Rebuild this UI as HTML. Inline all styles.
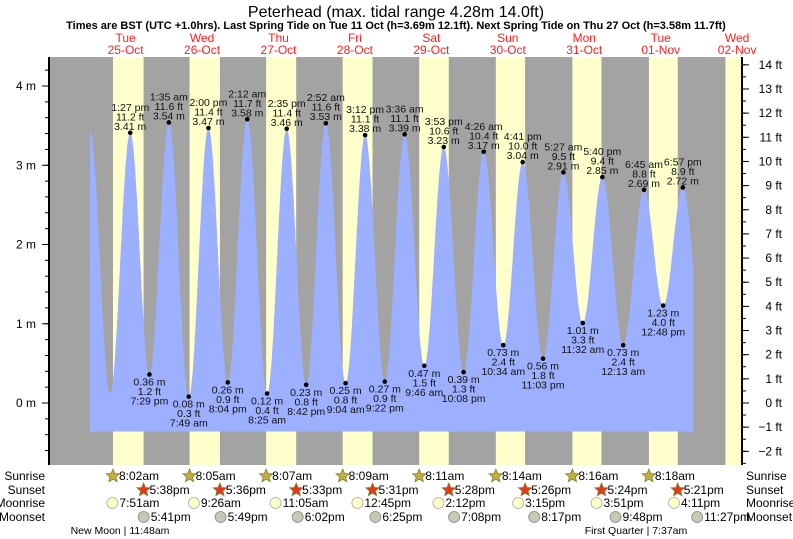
<!DOCTYPE html>
<html><head><meta charset="utf-8"><style>
html,body{margin:0;padding:0;background:#fff;}
svg{display:block;font-family:"Liberation Sans",sans-serif;}
</style></head><body>
<svg id="chart" width="793" height="539" viewBox="0 0 793 539" xmlns="http://www.w3.org/2000/svg">
<text x="396" y="17" font-size="16" text-anchor="middle" fill="#000">Peterhead (max. tidal range 4.28m 14.0ft)</text>
<text x="396" y="29" font-size="11" font-weight="bold" text-anchor="middle" fill="#000">Times are BST (UTC +1.0hrs). Last Spring Tide on Tue 11 Oct (h=3.69m 12.1ft). Next Spring Tide on Thu 27 Oct (h=3.58m 11.7ft)</text>
<g id="bands"></g>
<g id="water"></g>
<g id="labels"></g>
<g id="axes"></g>
<g id="days"></g>
<g id="astro"></g>
</svg>
<script>
// data
const dayNames = ["Tue","Wed","Thu","Fri","Sat","Sun","Mon","Tue","Wed"];
const dayDates = ["25-Oct","26-Oct","27-Oct","28-Oct","29-Oct","30-Oct","31-Oct","01-Nov","02-Nov"];
const tideHours = [0.83,7.1,13.45,19.48,25.58,31.82,38.0,44.07,50.2,56.42,62.58,68.7,74.87,81.07,87.2,93.37,99.6,105.77,111.88,118.13,124.43,130.57,136.68,143.05,149.45,155.53,161.67,168.22,174.75,180.8,186.95,193.25];
const tideHeights = [3.42,0.12,3.41,0.36,3.54,0.08,3.47,0.26,3.58,0.12,3.46,0.23,3.53,0.25,3.38,0.27,3.39,0.47,3.23,0.39,3.17,0.73,3.04,0.56,2.91,1.01,2.85,0.73,2.69,1.23,2.72,0.8];
const tideTimeLabels = ["","","1:27 pm","7:29 pm","1:35 am","7:49 am","2:00 pm","8:04 pm","2:12 am","8:25 am","2:35 pm","8:42 pm","2:52 am","9:04 am","3:12 pm","9:22 pm","3:36 am","9:46 am","3:53 pm","10:08 pm","4:26 am","10:34 am","4:41 pm","11:03 pm","5:27 am","11:32 am","5:40 pm","12:13 am","6:45 am","12:48 pm","6:57 pm",""];
const tideFtLabels = ["","","11.2 ft","1.2 ft","11.6 ft","0.3 ft","11.4 ft","0.9 ft","11.7 ft","0.4 ft","11.4 ft","0.8 ft","11.6 ft","0.8 ft","11.1 ft","0.9 ft","11.1 ft","1.5 ft","10.6 ft","1.3 ft","10.4 ft","2.4 ft","10.0 ft","1.8 ft","9.5 ft","3.3 ft","9.4 ft","2.4 ft","8.8 ft","4.0 ft","8.9 ft",""];
const sunriseHours = [8.03,8.08,8.12,8.15,8.18,8.23,8.27,8.3,8.33];
const sunsetHours = [17.63,17.6,17.55,17.52,17.47,17.43,17.4,17.35];
const sunriseLabels = ["8:02am","8:05am","8:07am","8:09am","8:11am","8:14am","8:16am","8:18am"];
const sunsetLabels = ["5:38pm","5:36pm","5:33pm","5:31pm","5:28pm","5:26pm","5:24pm","5:21pm"];
const moonriseHours = [7.85,9.43,11.08,12.75,14.2,15.25,15.85,16.18];
const moonriseLabels = ["7:51am","9:26am","11:05am","12:45pm","2:12pm","3:15pm","3:51pm","4:11pm"];
const moonsetHours = [17.68,17.82,18.03,18.42,19.13,20.28,21.8,23.45];
const moonsetLabels = ["5:41pm","5:49pm","6:02pm","6:25pm","7:08pm","8:17pm","9:48pm","11:27pm"];
const mTicks = [0,1,2,3,4];
const ftTicks = [-2,-1,0,1,2,3,4,5,6,7,8,9,10,11,12,13,14];

const NS="http://www.w3.org/2000/svg";
const X0=87.4, PXH=3.185, Y0=403, PXM=79.25;
const PL=49, PR=742, PT=57, PB=465;
const fillStart=0.83, fillEnd=190.2, fillBottom=-0.36;
function xs(t){return X0+t*PXH;}
function ys(h){return Y0-h*PXM;}
function mk(tag,attrs,parent){const e=document.createElementNS(NS,tag);for(const k in attrs)e.setAttribute(k,attrs[k]);parent.appendChild(e);return e;}
function txt(parent,x,y,s,size,anchor,fill){const e=mk('text',{x:x,y:y,'font-size':size,'text-anchor':anchor,fill:fill||'#000'},parent);e.textContent=s;return e;}

// bands
const bands=document.getElementById('bands');
const bg=mk('rect',{x:PL,y:PT,width:PR-PL,height:PB-PT,fill:'#a3a3a3'},bands);


for(let d=0;d<sunriseHours.length;d++){
  const a=xs(d*24+sunriseHours[d]);
  const b=d<sunsetHours.length?xs(d*24+sunsetHours[d]):PR;
  const r=mk('rect',{x:a,y:PT,width:Math.min(b,PR)-a,height:PB-PT,fill:'#ffffcc'},bands);
  
  
}

// water curve (cosine interpolation)
function hAt(t){
  for(let i=0;i<tideHours.length-1;i++){
    if(t>=tideHours[i]&&t<=tideHours[i+1]){
      const f=(t-tideHours[i])/(tideHours[i+1]-tideHours[i]);
      const c=(1-Math.cos(Math.PI*f))/2;
      return tideHeights[i]+(tideHeights[i+1]-tideHeights[i])*c;
    }
  }
  return tideHeights[tideHeights.length-1];
}
let d='M'+xs(fillStart).toFixed(1)+','+ys(fillBottom).toFixed(1);
for(let t=fillStart;t<=fillEnd;t+=0.1){d+=' L'+xs(t).toFixed(1)+','+ys(hAt(t)).toFixed(1);}
d+=' L'+xs(fillEnd).toFixed(1)+','+ys(hAt(fillEnd)).toFixed(1)+' L'+xs(fillEnd).toFixed(1)+','+ys(fillBottom).toFixed(1)+' Z';
const wp=mk('path',{d:d,fill:'#9db0ff'},document.getElementById('water'));



// labels
const lab=document.getElementById('labels');
for(let i=0;i<tideHours.length;i++){
  if(!tideTimeLabels[i])continue;
  const x=xs(tideHours[i]), y=ys(tideHeights[i]);
  const high=i>0?tideHeights[i]>tideHeights[i-1]:true;
  const g=mk('g',{},lab);
  
  
  mk('circle',{cx:x,cy:y,r:2.3,fill:'#000'},g);
  const m=tideHeights[i].toFixed(2)+' m';
  if(high){
    txt(g,x,y-3,m,10.5,'middle','#111');
    txt(g,x,y-12.5,tideFtLabels[i],10.5,'middle','#111');
    txt(g,x,y-22,tideTimeLabels[i],10.5,'middle','#111');
  }else{
    txt(g,x,y+11,m,10.5,'middle','#111');
    txt(g,x,y+20.5,tideFtLabels[i],10.5,'middle','#111');
    txt(g,x,y+30,tideTimeLabels[i],10.5,'middle','#111');
  }
}

// axes
const ax=document.getElementById('axes');
mk('line',{x1:PL,y1:PT,x2:PL,y2:PB,stroke:'#000','stroke-width':2},ax);
mk('line',{x1:PR,y1:PT,x2:PR,y2:PB,stroke:'#000','stroke-width':2},ax);
for(let v=-0.6;v<=4.3;v+=0.2){const y=ys(v);mk('line',{x1:PL-4,y1:y,x2:PL,y2:y,stroke:'#000','stroke-width':1},ax);}
mTicks.forEach(v=>{const y=ys(v);mk('line',{x1:PL-7,y1:y,x2:PL,y2:y,stroke:'#000','stroke-width':1},ax);const t=txt(ax,36,y+4,v+' m',12,'end','#000');});
const FT=0.3048;
for(let v=-2.5;v<=14.01;v+=0.5){const y=ys(v*FT);mk('line',{x1:PR,y1:y,x2:PR+4,y2:y,stroke:'#000','stroke-width':1},ax);}
ftTicks.forEach(v=>{const y=ys(v*FT);mk('line',{x1:PR,y1:y,x2:PR+7,y2:y,stroke:'#000','stroke-width':1},ax);const s=(v<0?'\u2212'+(-v):v)+' ft';const t=txt(ax,782,y+4,s,12,'end','#000');});

// day labels
const dg=document.getElementById('days');
for(let i=0;i<dayNames.length;i++){
  const x=xs(i*24+12);
  const g=mk('g',{},dg);
  
  
  txt(g,x,42,dayNames[i],12,'middle','#ff2020');
  txt(g,x,54,dayDates[i],12,'middle','#ff2020');
}

// astro rows
const as=document.getElementById('astro');
const rowY=[480,494,507,521];
["Sunrise","Sunset","Moonrise","Moonset"].forEach((s,i)=>{
  const a=txt(as,45,rowY[i],s,12,'end','#000');
  const b=txt(as,746,rowY[i],s,12,'start','#000');
});
function star(cx,cy,r,fill){let p='';for(let k=0;k<10;k++){const rr=k%2?r*0.45:r;const an=-Math.PI/2+k*Math.PI/5;p+=(k?'L':'M')+(cx+rr*Math.cos(an)).toFixed(1)+','+(cy+rr*Math.sin(an)).toFixed(1);}return mk('path',{d:p+'Z',fill:fill,stroke:'#8a7a30','stroke-width':0.8},as);}
for(let i=0;i<sunriseLabels.length;i++){
  let x=xs(i*24+sunriseHours[i]);
  const s1=star(x,rowY[0]-4,7,'#c0b040');
  txt(as,x+6,rowY[0],sunriseLabels[i],12,'start','#000');
  x=xs(i*24+sunsetHours[i]);
  const s2=star(x,rowY[1]-4,7,'#e03a1a');
  txt(as,x+6,rowY[1],sunsetLabels[i],12,'start','#000');
  x=xs(i*24+moonriseHours[i]);
  const c1=mk('circle',{cx:x,cy:rowY[2]-4,r:5.5,fill:'#ffffc8',stroke:'#aaa','stroke-width':0.8},as);
  txt(as,x+7,rowY[2],moonriseLabels[i],12,'start','#000');
  x=xs(i*24+moonsetHours[i]);
  const c2=mk('circle',{cx:x,cy:rowY[3]-4,r:5.5,fill:'#c8c8b4',stroke:'#888','stroke-width':0.8},as);
  txt(as,x+7,rowY[3],moonsetLabels[i],12,'start','#000');
}
const p1=txt(as,120,534,'New Moon | 11:48am',10.5,'middle','#000');
const p2=txt(as,636,534,'First Quarter | 7:37am',10.5,'middle','#000');
</script>
</body></html>
